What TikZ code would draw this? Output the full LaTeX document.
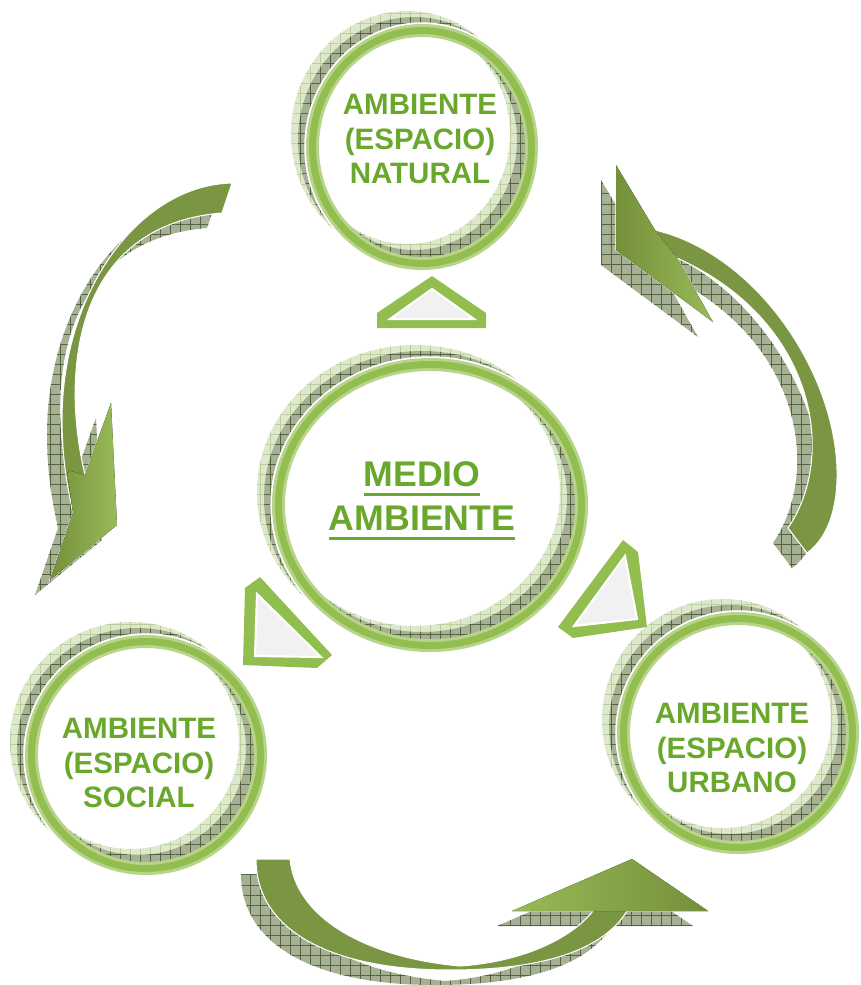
\documentclass[tikz,border=0pt]{standalone}
\usepackage{fontspec}
\setmainfont{Liberation Sans}
\usetikzlibrary{patterns.meta,positioning}
\definecolor{verdetexto}{RGB}{106,168,45}
\definecolor{verdeanillo}{RGB}{146,190,80}
\definecolor{verdeclaro}{RGB}{184,212,138}
\definecolor{oliva}{RGB}{122,150,66}
\definecolor{olivaclaro}{RGB}{152,186,88}
\definecolor{olivaoscuro}{RGB}{116,144,58}
\definecolor{sombraverde}{RGB}{222,232,204}
\definecolor{sombraverdelinea}{RGB}{188,206,158}
\definecolor{sombragris}{RGB}{166,176,148}
\definecolor{sombragrislinea}{RGB}{84,98,62}
\definecolor{grisclaro}{RGB}{241,241,241}
\tikzset{
  texto/.style={text=verdetexto, align=center,
    font=\bfseries\fontsize{16.8}{19.6}\selectfont},
  textomedio/.style={text=verdetexto, align=center,
    font=\bfseries\fontsize{20.3}{25}\selectfont},
  sombraclara/.style={even odd rule, preaction={fill=sombraverde, even odd rule},
    pattern={Hatch[angle=0,distance=5.7pt,line width=0.35pt]},
    pattern color=sombraverdelinea},
  sombraoscura/.style={even odd rule, preaction={fill=sombragris, even odd rule},
    pattern={Hatch[angle=0,distance=5.7pt,line width=0.4pt]},
    pattern color=sombragrislinea},
  sombraflecha/.style={preaction={fill=sombragris},
    pattern={Hatch[angle=0,distance=5.7pt,line width=0.4pt]},
    pattern color=sombragrislinea, shift={(-15,15)}},
  flecha/.style={fill=oliva, draw=white, line width=0.6pt},
  marco/.style={fill=verdeanillo},
  ventana/.style={fill=grisclaro, draw=white, line width=1.2pt},
}
\newcommand{\upx}{0.02cm}
% anillo: centro x, centro y, radio x, radio y
\newcommand{\anillo}[4]{%
  \path[sombraclara] (#1-15,#2-13) ellipse [x radius=#3*\upx, y radius=#4*\upx]
    (#1-15,#2-13) ellipse [x radius=(#3-13)*\upx, y radius=(#4-13)*\upx];
  \path[sombraoscura] (#1-8,#2-7) ellipse [x radius=#3*\upx, y radius=#4*\upx]
    (#1-8,#2-7) ellipse [x radius=(#3-13)*\upx, y radius=(#4-13)*\upx];
  \draw[white, line width=2pt] (#1,#2) ellipse [x radius=#3*\upx, y radius=#4*\upx];
  \fill[verdeclaro, even odd rule] (#1,#2) ellipse [x radius=#3*\upx, y radius=#4*\upx]
    (#1,#2) ellipse [x radius=(#3-13)*\upx, y radius=(#4-13)*\upx];
  \fill[verdeanillo, even odd rule] (#1,#2) ellipse [x radius=(#3-3)*\upx, y radius=(#4-3)*\upx]
    (#1,#2) ellipse [x radius=(#3-10)*\upx, y radius=(#4-10)*\upx];
}
% subrayado grueso
\newcommand{\subr}[1]{\setbox0\hbox{#1}\rlap{\rule[-5.2pt]{\wd0}{1.7pt}}\box0}
% flechas curvas
\newcommand{\trazoizq}{(232,183) .. controls (140,185) and (62,290) .. (62,420)
  .. controls (62,460) and (68,490) .. (73,513) -- (50,580) -- (117,525) -- (111,403)
  -- (85,475) .. controls (60,370) and (75,225) .. (222,213) -- cycle}
\newcommand{\trazoder}{(616,165) -- (655,230) .. controls (760,255) and (840,380) .. (837,480)
  .. controls (836,515) and (825,540) .. (807,553) -- (788,528)
  .. controls (838,455) and (815,320) .. (677,258) -- (713,322) -- (616,250) -- cycle}
\newcommand{\trazoinf}{(256,859) -- (290,859) .. controls (296,920) and (370,958) .. (460,966)
  .. controls (520,962) and (570,940) .. (593,911) -- (512,911) -- (632,859) -- (708,911)
  -- (627,911) .. controls (600,955) and (530,970) .. (450,970)
  .. controls (330,970) and (256,930) .. (256,859) -- cycle}
\begin{document}
\begin{tikzpicture}[x=0.02cm, y=-0.02cm]
    \useasboundingbox (0,0) rectangle (860,985);

    % sombras de las flechas
    \path[sombraflecha] \trazoizq;
    \path[sombraflecha] \trazoder;
    \path[sombraflecha] \trazoinf;

    % flechas
    \path[flecha] \trazoizq;
    \fill[left color=olivaoscuro, right color=olivaclaro] (111,403) -- (117,525) -- (50,580)
      -- (73,513) -- (67,470) -- (85,475) -- cycle;
    \path[flecha] \trazoder;
    \fill[left color=olivaoscuro, right color=olivaclaro] (616,165) -- (655,230) -- (677,258)
      -- (713,322) -- (616,250) -- cycle;
    \path[flecha] \trazoinf;
    \fill[left color=olivaclaro, right color=olivaoscuro] (593,911) -- (512,911) -- (632,859)
      -- (708,911) -- (627,911) -- cycle;

    % anillos
    \anillo{422}{147}{116}{123}
    \anillo{430}{505}{158}{147}
    \anillo{146}{755}{121}{120}
    \anillo{738}{733}{121}{121}

    % triangulos
    \fill[marco] (432,276) -- (486,313) -- (486,328) -- (377,328) -- (377,313) -- cycle;
    \filldraw[ventana] (432,289) -- (474,319) -- (390,319) -- cycle;
    \fill[marco] (260,577) -- (332,655) -- (317,668) -- (243,665) -- (245,588) -- cycle;
    \filldraw[ventana] (257,594) -- (321,657) -- (255,656) -- cycle;
    \fill[marco] (623,540) -- (638,552) -- (647,627) -- (573,638) -- (558,627) -- cycle;
    \filldraw[ventana] (625,556) -- (637,619) -- (574,626) -- cycle;

    % textos
    \node[texto] (natural) at (420,139) {AMBIENTE\\(ESPACIO)\\NATURAL};
    \node[textomedio] (medio) at (422,501) {\subr{MEDIO}\\\subr{AMBIENTE}};
    \node[texto] (social) at (139,763) {AMBIENTE\\(ESPACIO)\\SOCIAL};
    \node[texto] (urbano) at (732,748) {AMBIENTE\\(ESPACIO)\\URBANO};
\end{tikzpicture}
\end{document}
